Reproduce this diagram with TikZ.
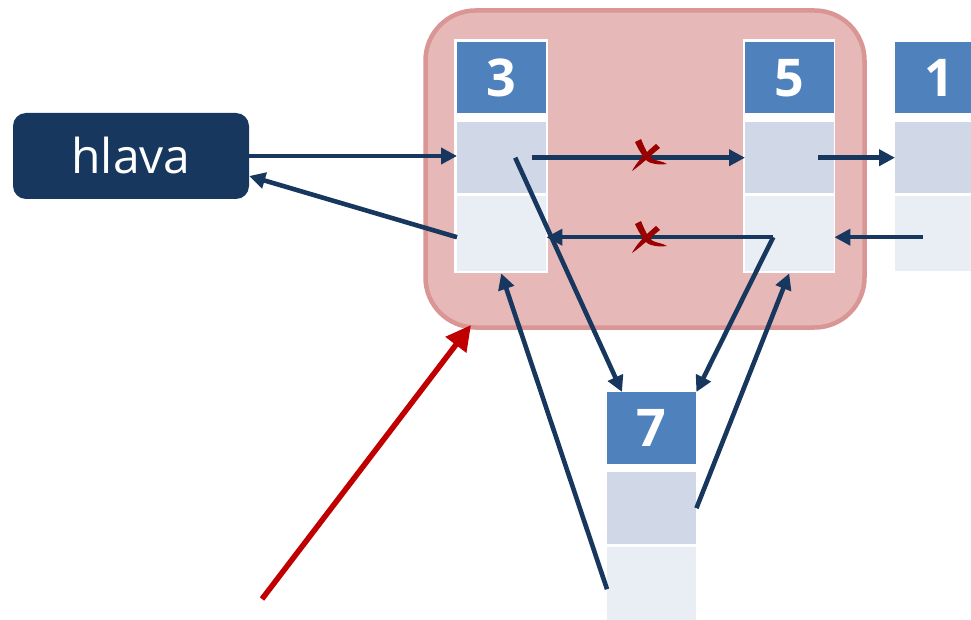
\documentclass[tikz,border=0pt]{standalone}
\usepackage{fontspec}
\setmainfont{Open Sans}
\usetikzlibrary{arrows.meta,calc}
\definecolor{navy}{HTML}{17375E}
\definecolor{hdr}{HTML}{4F81BD}
\definecolor{midc}{HTML}{D0D8E8}
\definecolor{botc}{HTML}{E9EDF4}
\definecolor{grpfill}{HTML}{E6B9B8}
\definecolor{grpdraw}{HTML}{D99694}
\definecolor{redarrow}{HTML}{C00000}
\definecolor{xred}{HTML}{990000}
\begin{document}
\begin{tikzpicture}[x=1pt,y=-1pt,
  cell/.style={rectangle,inner sep=0pt,minimum width=89pt,anchor=north west},
  hdrcell/.style={cell,fill=hdr,minimum height=71pt,text=white,font=\fontsize{52}{62}\selectfont\bfseries},
  midcell/.style={cell,fill=midc,minimum height=71pt},
  botcell/.style={cell,fill=botc,minimum height=75pt},
  frame/.style={rectangle,inner sep=0pt,fill=white,anchor=north west,minimum height=234pt},
  grp/.style={rectangle,rounded corners=50pt,fill=grpfill,draw=grpdraw,line width=4.5pt,minimum width=439pt,minimum height=317pt,inner sep=0pt},
  headbox/.style={rectangle,rounded corners=13pt,fill=navy,text=white,minimum width=236pt,minimum height=86pt,inner sep=0pt,font=\fontsize{48}{58}\selectfont},
  link/.style={draw=navy,line width=4.6pt,-{Triangle[length=16pt,width=16pt]}},
  redlink/.style={draw=redarrow,line width=5.5pt,-{Triangle[length=25pt,width=25pt]}},
  redx/.pic={
    \fill[xred] (-12,-13) -- (-6,-16) .. controls (-2,-6) and (2,2) .. (6,4)
      .. controls (10,6) and (15,6) .. (20,9) .. controls (12,10) and (4,9) .. (0,6)
      .. controls (-4,2) and (-9,-6) .. cycle;
    \fill[xred] (9,-11) -- (13,-7) .. controls (4,0) and (-6,10) .. (-15,16)
      .. controls (-11,8) and (-2,-2) .. cycle;
  }
]
\useasboundingbox (0,0) rectangle (971,620);

% group box
\node[grp] (grp) at (645,169) {};

% head
\node[headbox] (hlava) at (131,156) {hlava};

% frames
\node[frame,minimum width=94pt] (f3) at (454,39) {};
\node[frame,minimum width=92pt] (f5) at (743,39) {};

% node 3
\node[hdrcell] (c3h) at (457,42) {3};
\node[midcell] (c3m) at (457,122) {};
\node[botcell] (c3b) at (457,196) {};
% node 5
\node[hdrcell] (c5h) at (745,42) {5};
\node[midcell] (c5m) at (745,122) {};
\node[botcell] (c5b) at (745,196) {};
% node 1
\node[hdrcell] (c1h) at (895,42) {1};
\node[midcell] (c1m) at (895,122) {};
\node[botcell] (c1b) at (895,196) {};
% node 7
\node[hdrcell,minimum height=72pt] (c7h) at (607,392) {7};
\node[midcell,minimum height=72pt] (c7m) at (607,472) {};
\node[botcell] (c7b) at (607,547) {};

% coordinates
\coordinate (p3b) at ([yshift=-3.5pt]c3b.west);
\coordinate (q5) at ([xshift=-16.5pt,yshift=-3.5pt]c5b.center);
\coordinate (q1) at ([xshift=-16.5pt,yshift=-3.5pt]c1b.center);
\coordinate (p7b) at ([yshift=-4.5pt]c7b.west);
\coordinate (r1) at (262,599);
\coordinate (r2) at (471,325);

% links
\draw[link] (hlava.east) -- (hlava.east -| c3m.west);
\draw[link] (p3b) -- ([yshift=-20pt]hlava.east);
\draw[link] ([xshift=30pt]c3m.center) -- (c5m.west);
\draw[link] (q5) -- (q5 -| c3b.east);
\draw[link] (q5) -- (c7h.north east);
\draw[link] ([xshift=13.5pt]c3m.center) -- ([xshift=15pt]c7h.north west);
\draw[link] (c7m.east) -- (f5.south);
\draw[link] (p7b) -- (f3.south);
\draw[link] ([xshift=28.5pt]c5m.center) -- (c1m.west);
\draw[link] (q1) -- (q1 -| c5b.east);

% crosses
\pic at (647,155) {redx};
\pic at (647,237) {redx};

% red arrow
\draw[redlink] (r1) -- (r2);
\end{tikzpicture}
\end{document}
